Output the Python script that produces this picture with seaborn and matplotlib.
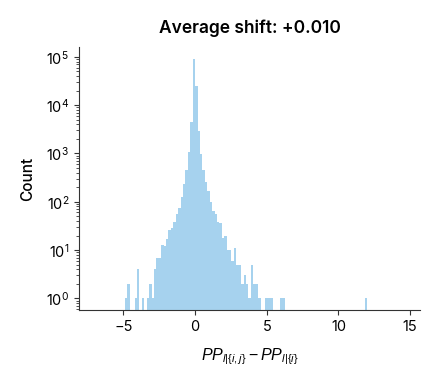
import numpy as np
import pandas as pd
import matplotlib
matplotlib.use("Agg")
import matplotlib.pyplot as plt
import seaborn as sns

# ================= DATA =================
X_MIN = -4.9          # left edge of first bin
X_MAX = 12.0          # right edge of last bin
N_BINS = 100

# counts per bin (left to right)
COUNTS = [
    1, 2, 0, 0, 1, 4, 0, 1, 0, 1,
    2, 1, 4, 7, 7, 13, 12, 17, 26, 28,
    39, 57, 76, 128, 236, 455, 1064, 4575, 88900, 24900,
    2860, 968, 455, 259, 169, 101, 63, 57, 39, 36,
    18, 20, 10, 10, 6, 11, 5, 5, 2, 3,
    2, 1, 5, 2, 2, 1, 0, 0, 1, 1,
    1, 0, 0, 0, 1, 1, 0, 0, 0, 0,
    0, 0, 0, 0, 0, 0, 0, 0, 0, 0,
    0, 0, 0, 0, 0, 0, 0, 0, 0, 0,
    0, 0, 0, 0, 0, 0, 0, 0, 0, 1,
]
X_TICKS = [-5, 0, 5, 10, 15]
TITLE = "Average shift: +0.010"
BAR_COLOR = "#a6d2ee"

# ================= PLOT =================
sns.set_style("ticks")
plt.rcParams["font.family"] = ["Inter", "DejaVu Sans"]
plt.rcParams["mathtext.fontset"] = "custom"
plt.rcParams["mathtext.rm"] = "Liberation Sans"
plt.rcParams["mathtext.it"] = "Liberation Sans:italic"
plt.rcParams["text.color"] = "black"
plt.rcParams["axes.labelcolor"] = "black"
plt.rcParams["xtick.labelcolor"] = "black"
plt.rcParams["ytick.labelcolor"] = "black"

edges = np.linspace(X_MIN, X_MAX, N_BINS + 1)
centers = (edges[:-1] + edges[1:]) / 2
df = pd.DataFrame({"shift": centers, "count": COUNTS})

fig = plt.figure(figsize=(4.39, 3.85), dpi=100)
ax = fig.add_axes([0.18, 0.194, 0.777, 0.683])

sns.histplot(data=df, x="shift", weights="count", bins=N_BINS,
             binrange=(X_MIN, X_MAX), color=BAR_COLOR, alpha=1,
             linewidth=0, ax=ax)
ax.set_yscale("log")

ax.set_xlim(-8.1, 15.7)
ax.set_xticks(X_TICKS)
ax.set_xticklabels(["\u22125", "0", "5", "10", "15"])
ax.tick_params(labelsize=10.5, length=3.5, width=0.8, color="#333333")
ax.tick_params(which="minor", length=2, width=0.6, color="#333333")

ax.set_title(TITLE, fontsize=12.5, fontweight="semibold", pad=10)
ax.set_xlabel(r"$PP_{l|\{i,j\}} - PP_{l|\{i\}}$", fontsize=11.5, labelpad=9)
ax.set_ylabel("Count", fontsize=11, fontweight="medium", labelpad=8)
for s in ("left", "bottom"):
    ax.spines[s].set_color("#333333")
sns.despine(ax=ax)

fig.savefig("out.png", dpi=100)
